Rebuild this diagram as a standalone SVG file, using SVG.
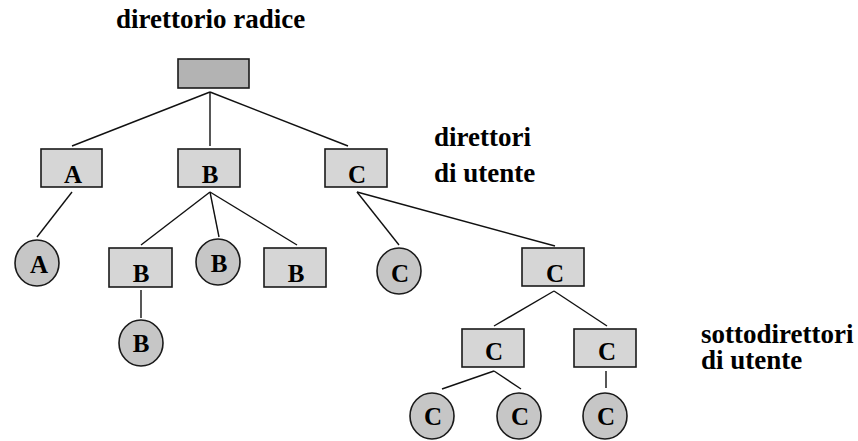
<svg xmlns="http://www.w3.org/2000/svg" width="858" height="441" viewBox="0 0 858 441">
<style>
.bx{fill:#d6d6d6;stroke:#1a1a1a;stroke-width:1.6}
.rt{fill:#b3b3b3;stroke:#1a1a1a;stroke-width:1.6}
.cr{fill:#c6c6c6;stroke:#1a1a1a;stroke-width:1.6}
.ln{stroke:#111;stroke-width:1.4;fill:none}
text{font-family:'Liberation Serif','Times New Roman','DejaVu Serif',serif;font-weight:bold;fill:#000}
.t{font-size:25px;text-anchor:middle}
.lb{font-size:27px}
</style>
<rect width="858" height="441" fill="#fff"/>
<text class="lb" x="116" y="28">direttorio radice</text>
<text class="lb" x="434" y="146">direttori</text>
<text class="lb" x="434" y="182">di utente</text>
<text class="lb" x="701" y="343">sottodirettori</text>
<text class="lb" x="701" y="369">di utente</text>
<g id="connectors">
<line class="ln" x1="210" y1="92" x2="72" y2="146"/>
<line class="ln" x1="210" y1="92" x2="210" y2="146"/>
<line class="ln" x1="210" y1="92" x2="348" y2="146"/>
<line class="ln" x1="72" y1="192" x2="37" y2="237"/>
<line class="ln" x1="210" y1="192" x2="141" y2="245"/>
<line class="ln" x1="210" y1="192" x2="219" y2="237"/>
<line class="ln" x1="210" y1="192" x2="297" y2="245"/>
<line class="ln" x1="141" y1="290" x2="141" y2="318"/>
<line class="ln" x1="357" y1="192" x2="399" y2="245"/>
<line class="ln" x1="357" y1="192" x2="555" y2="246"/>
<line class="ln" x1="554" y1="291" x2="494" y2="326"/>
<line class="ln" x1="554" y1="291" x2="607" y2="326"/>
<line class="ln" x1="494" y1="371" x2="442" y2="389"/>
<line class="ln" x1="494" y1="371" x2="521" y2="389"/>
<line class="ln" x1="606" y1="371" x2="606" y2="388"/>
</g>
<g id="root"><rect class="rt" x="178" y="59" width="71" height="29"/></g>
<g id="dirA"><rect class="bx" x="41" y="149" width="61" height="38"/><text class="t" x="73" y="183">A</text></g>
<g id="dirB"><rect class="bx" x="178" y="149" width="62" height="38"/><text class="t" x="210" y="183">B</text></g>
<g id="dirC"><rect class="bx" x="325" y="149" width="62" height="38"/><text class="t" x="357" y="183">C</text></g>
<g id="fileA"><ellipse class="cr" cx="37" cy="263" rx="22" ry="23"/><text class="t" x="39" y="273">A</text></g>
<g id="dirB1"><rect class="bx" x="109" y="248" width="63" height="39"/><text class="t" x="141" y="282">B</text></g>
<g id="fileB1"><ellipse class="cr" cx="218" cy="262" rx="22" ry="23"/><text class="t" x="219" y="272">B</text></g>
<g id="dirB2"><rect class="bx" x="264" y="248" width="62" height="39"/><text class="t" x="296" y="282">B</text></g>
<g id="fileB2"><ellipse class="cr" cx="141" cy="343" rx="22" ry="23"/><text class="t" x="141" y="352">B</text></g>
<g id="fileC1"><ellipse class="cr" cx="399" cy="271" rx="22" ry="23"/><text class="t" x="400" y="282">C</text></g>
<g id="dirC1"><rect class="bx" x="522" y="248" width="62" height="38"/><text class="t" x="555" y="282">C</text></g>
<g id="dirC2"><rect class="bx" x="462" y="329" width="62" height="38"/><text class="t" x="494" y="360">C</text></g>
<g id="dirC3"><rect class="bx" x="574" y="329" width="62" height="38"/><text class="t" x="607" y="360">C</text></g>
<g id="fileC2"><ellipse class="cr" cx="432" cy="416" rx="22" ry="23"/><text class="t" x="433" y="425">C</text></g>
<g id="fileC3"><ellipse class="cr" cx="519" cy="416" rx="22" ry="23"/><text class="t" x="520" y="425">C</text></g>
<g id="fileC4"><ellipse class="cr" cx="605" cy="416" rx="22" ry="23"/><text class="t" x="606" y="425">C</text></g>
</svg>
